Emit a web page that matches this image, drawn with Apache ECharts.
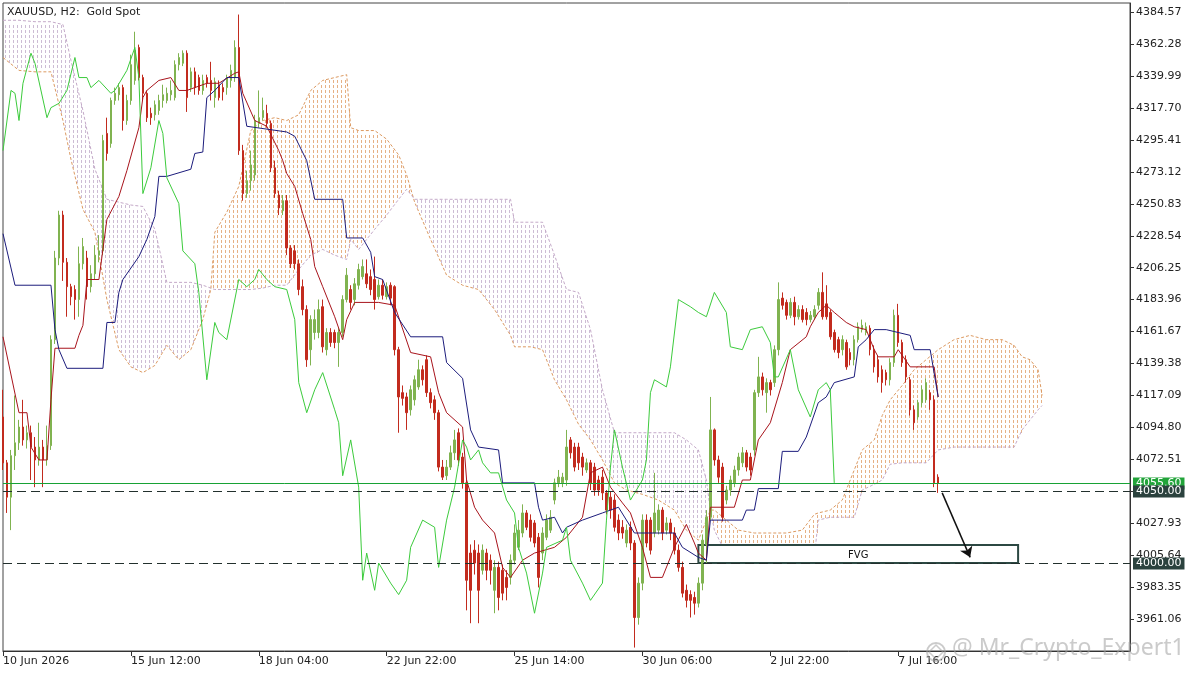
<!DOCTYPE html>
<html><head><meta charset="utf-8">
<script src="https://cdn.jsdelivr.net/npm/echarts@6/dist/echarts.min.js"></script>
<style>html,body{margin:0;padding:0;background:#fff}#c{width:1200px;height:675px}</style>
</head><body><div id="c"></div>
<script>
// ---------------- DATA ----------------
const titleText = 'XAUUSD, H2:  Gold Spot';
const xLabels = ['10 Jun 2026','15 Jun 12:00','18 Jun 04:00','22 Jun 22:00','25 Jun 14:00','30 Jun 06:00','2 Jul 22:00','7 Jul 16:00'];
const barsPerLabel = 32;
const barSlots = 283;
const tickVals = [3961.06,3983.35,4005.64,4027.93,4050.22,4072.51,4094.80,4117.09,4139.38,4161.67,4183.96,4206.25,4228.54,4250.83,4273.12,4295.41,4317.70,4339.99,4362.28,4384.57];
const priceMin = 3938.61, priceMax = 4391.06;

const opens = [4102,4070,4046,4075,4084,4095,4086,4091,4081,4072,
4081,4072,4082,4156,4213,4243,4210,4193,4191,4184,
4209,4213,4193,4202,4215,4218,4300,4293,4323,4327,
4332,4309,4323,4337,4360,4339,4328,4314,4313,4316,
4323,4323,4327,4325,4348,4349,4356,4332,4343,4339,
4330,4339,4337,4325,4334,4332,4332,4337,4339,4360,
4288,4258,4267,4271,4307,4311,4314,4307,4276,4257,
4246,4253,4220,4218,4209,4193,4177,4149,4161,4161,
4179,4149,4161,4161,4154,4161,4184,4191,4184,4194,
4200,4202,4200,4198,4186,4194,4186,4194,4193,4149,
4119,4116,4107,4114,4123,4135,4142,4119,4114,4105,
4067,4061,4067,4077,4091,4074,4056,4007,4009,4007,
3995,4007,4002,3981,3997,3995,3990,3990,4002,4011,
4021,4035,4030,4028,4018,4007,4018,4023,4044,4056,
4056,4058,4086,4081,4081,4074,4065,4070,4067,4058,
4060,4049,4046,4044,4030,4025,4014,4025,4014,3962,
3986,4030,4030,4021,4023,4037,4023,4028,4021,4009,
3997,3981,3978,3976,3972,3986,4013,4032,4093,4072,
4067,4044,4051,4056,4065,4070,4077,4074,4079,4119,
4130,4119,4126,4126,4149,4185,4182,4173,4182,4172,
4177,4175,4170,4172,4180,4189,4181,4175,4161,4156,
4149,4154,4147,4142,4156,4163,4161,4164,4149,4142,
4135,4133,4128,4140,4173,4154,4142,4128,4107,4102,
4112,4114,4119,4114,4060];
const closes = [4070,4046,4075,4084,4095,4086,4091,4081,4072,4081,
4072,4082,4156,4213,4243,4210,4193,4186,4184,4209,
4221,4193,4202,4215,4218,4295,4286,4323,4328,4332,
4309,4323,4348,4358,4339,4328,4311,4311,4320,4323,
4327,4328,4330,4348,4353,4356,4325,4343,4332,4330,
4337,4335,4330,4336,4325,4329,4339,4344,4360,4288,
4258,4267,4278,4309,4311,4316,4307,4276,4258,4248,
4253,4220,4209,4209,4191,4177,4142,4170,4170,4177,
4151,4161,4154,4154,4161,4184,4201,4182,4195,4205,
4207,4195,4191,4184,4194,4187,4193,4185,4149,4116,
4115,4105,4121,4128,4135,4128,4119,4112,4105,4067,
4060,4067,4077,4086,4072,4056,3988,3981,4000,3981,
4009,3995,3995,3997,3976,3979,3983,4002,4021,4023,
4035,4025,4018,4014,3990,4021,4030,4032,4056,4060,
4060,4081,4077,4067,4070,4067,4070,4056,4051,4051,
4049,4037,4037,4025,4021,4021,4023,4014,3962,3986,
4030,4014,4009,4035,4037,4021,4028,4021,4009,3997,
3979,3974,3974,3972,3986,4016,4032,4093,4072,4060,
4032,4051,4058,4065,4074,4077,4067,4065,4119,4130,
4121,4126,4121,4149,4184,4180,4173,4182,4172,4177,
4170,4170,4173,4177,4189,4172,4172,4158,4149,4147,
4156,4137,4142,4156,4165,4166,4165,4149,4137,4130,
4126,4128,4140,4173,4154,4140,4130,4107,4098,4112,
4121,4126,4114,4056,4055.6];
const lows = [4065,4035,4023,4065,4079,4082,4080,4058,4053,4068,
4053,4068,4079,4153,4208,4197,4172,4180,4170,4172,
4205,4184,4189,4198,4210,4215,4281,4290,4320,4323,
4302,4306,4320,4334,4337,4323,4308,4306,4309,4313,
4318,4321,4323,4323,4344,4347,4315,4329,4327,4327,
4327,4332,4323,4318,4323,4323,4327,4332,4336,4285,
4253,4255,4260,4267,4304,4309,4304,4273,4255,4243,
4243,4215,4206,4205,4187,4173,4137,4138,4156,4157,
4147,4145,4151,4150,4137,4158,4182,4177,4180,4191,
4198,4192,4187,4177,4184,4184,4184,4180,4145,4091,
4110,4093,4103,4110,4121,4124,4116,4108,4100,4064,
4058,4058,4065,4072,4068,4052,3967,3958,3992,3958,
3992,3988,3985,3965,3967,3974,3974,3985,3999,4009,
4018,4023,4015,4011,3983,4002,4016,4021,4041,4053,
4053,4054,4073,4064,4065,4061,4063,4051,4047,4047,
4044,4034,4031,4022,4016,4017,4011,4009,3941,3957,
3981,4011,4006,4018,4020,4016,4020,4016,4006,3994,
3976,3969,3962,3964,3969,3981,4000,4030,4068,4056,
4029,4041,4047,4053,4061,4067,4064,4061,4075,4116,
4117,4105,4117,4123,4145,4177,4170,4171,4166,4170,
4168,4166,4168,4170,4177,4170,4170,4156,4147,4143,
4145,4135,4138,4138,4154,4161,4159,4145,4133,4126,
4119,4124,4124,4137,4151,4137,4126,4103,4093,4100,
4109,4112,4107,4053,4049];
const highs = [4121,4072,4079,4117,4100,4114,4096,4096,4088,4098,
4086,4096,4159,4218,4246,4246,4213,4195,4194,4221,
4227,4218,4208,4222,4229,4299,4311,4325,4332,4335,
4334,4327,4355,4371,4362,4341,4330,4318,4323,4327,
4334,4332,4337,4351,4356,4358,4358,4346,4346,4341,
4341,4341,4350,4339,4337,4335,4341,4348,4365,4383,
4292,4274,4288,4313,4330,4325,4320,4309,4281,4260,
4257,4257,4222,4222,4212,4198,4180,4173,4177,4184,
4184,4164,4164,4163,4164,4187,4206,4194,4199,4209,
4212,4212,4205,4214,4198,4198,4196,4196,4194,4151,
4124,4119,4124,4131,4142,4138,4145,4122,4117,4107,
4072,4072,4082,4093,4094,4077,4058,4013,4016,4013,
4013,4010,4006,4002,4001,3999,3995,4006,4027,4030,
4041,4037,4034,4030,4021,4025,4034,4037,4059,4065,
4063,4093,4088,4084,4084,4077,4073,4072,4070,4061,
4065,4051,4050,4048,4034,4030,4027,4029,4016,3990,
4034,4034,4032,4063,4041,4039,4032,4031,4025,4013,
4001,3985,3981,3980,3990,4020,4037,4116,4094,4075,
4070,4054,4061,4068,4077,4081,4079,4077,4121,4144,
4133,4129,4128,4152,4196,4189,4184,4185,4186,4180,
4180,4178,4176,4180,4192,4203,4194,4177,4163,4158,
4159,4156,4150,4159,4168,4170,4168,4166,4152,4145,
4138,4135,4143,4177,4181,4156,4145,4130,4110,4114,
4124,4129,4121,4117,4062];

// Ichimoku lines as [bar index, price]
const tenkan = [[0,4158],[4,4105],[6,4105],[7,4081],[9,4072],[11,4072],[12,4114],[13,4150],[18,4150],[19,4159],[20,4166],[21,4198],[24,4198],[26,4240],[29,4256],[31,4274],[34,4304],[35,4325],[36,4330],[39,4337],[42,4339],[44,4330],[46,4330],[51,4335],[54,4335],[58,4342],[59,4343],[60,4328],[63,4309],[66,4305],[69,4288],[70,4281],[71,4272],[73,4263],[75,4244],[77,4226],[78,4207],[80,4193],[83,4172],[85,4156],[86,4170],[88,4182],[94,4182],[98,4180],[102,4147],[107,4144],[109,4119],[111,4105],[115,4095],[116,4058],[118,4039],[120,4030],[123,4021],[125,3997],[127,3990],[130,4002],[133,4007],[138,4011],[141,4018],[145,4032],[147,4063],[150,4067],[152,4053],[155,4042],[157,4035],[160,4011],[162,3990],[165,3990],[168,4011],[171,4027],[173,4014],[174,4007],[176,4002],[177,4039],[183,4039],[185,4058],[187,4058],[189,4086],[192,4098],[195,4126],[197,4149],[201,4158],[202,4165],[204,4175],[206,4180],[208,4175],[211,4168],[213,4165],[216,4163],[218,4149],[219,4144],[223,4144],[224,4149],[227,4137],[233,4137],[234,4116]];
const kijun = [[0,4230],[3,4194],[12,4194],[13,4163],[14,4149],[16,4136],[25,4136],[26,4168],[28,4168],[29,4189],[30,4198],[34,4214],[36,4226],[38,4242],[39,4270],[41,4270],[47,4275],[48,4286],[50,4287],[51,4325],[53,4330],[56,4339],[59,4339],[61,4305],[71,4301],[73,4298],[76,4281],[78,4254],[85,4254],[86,4227],[90,4227],[92,4217],[93,4200],[95,4198],[98,4175],[102,4158],[110,4158],[111,4140],[115,4129],[117,4093],[119,4081],[124,4079],[125,4056],[133,4056],[134,4039],[135,4030],[138,4032],[140,4021],[141,4025],[145,4030],[150,4035],[154,4039],[158,4021],[168,4021],[170,4011],[174,4004],[176,4002],[177,4030],[185,4030],[186,4037],[188,4037],[189,4052],[194,4052],[195,4078],[199,4078],[201,4088],[204,4112],[206,4116],[208,4126],[213,4130],[214,4151],[216,4156],[218,4163],[221,4163],[227,4159],[228,4149],[232,4149],[234,4116]];
const chikou = [[0,4288],[2,4330],[3,4328],[4,4309],[5,4335],[7,4356],[8,4349],[11,4311],[12,4318],[14,4321],[16,4330],[18,4353],[19,4339],[21,4339],[22,4332],[24,4337],[27,4328],[28,4330],[31,4344],[33,4360],[34,4339],[35,4258],[37,4276],[39,4309],[40,4300],[41,4269],[44,4251],[45,4218],[48,4209],[49,4189],[51,4128],[53,4168],[54,4161],[56,4156],[59,4198],[61,4193],[63,4198],[64,4205],[66,4198],[68,4193],[71,4191],[73,4170],[74,4126],[76,4105],[78,4121],[80,4133],[83,4107],[84,4098],[85,4061],[87,4086],[89,4053],[90,3988],[91,4007],[93,3981],[94,4000],[97,3986],[99,3978],[101,3988],[102,4011],[105,4030],[108,4025],[109,3997],[111,4030],[113,4053],[115,4086],[116,4081],[117,4072],[119,4079],[120,4070],[122,4063],[124,4063],[126,4044],[128,4035],[129,4011],[131,3993],[133,3965],[135,3993],[136,4011],[140,4016],[141,4025],[142,4002],[145,3986],[147,3974],[150,3986],[151,4030],[152,4067],[153,4093],[155,4067],[157,4044],[160,4058],[161,4072],[162,4119],[163,4128],[166,4123],[167,4137],[169,4184],[172,4179],[174,4175],[176,4172],[178,4189],[181,4175],[182,4151],[185,4149],[187,4163],[190,4165],[192,4154],[193,4130],[194,4130],[197,4149],[199,4121],[202,4102],[204,4121],[206,4126],[207,4121],[208,4056]];

// Cloud (Senkou span A / B) read at these bar indices
const cloudIdx = [0,4,8,12,15,17,20,23,26,29,32,35,38,41,44,47,50,52,53,56,59,62,65,68,71,74,77,80,83,86,87,89,93,96,99,101,103,107,111,115,119,123,127,128,132,135,138,141,144,147,150,153,156,160,164,168,171,174,176,177,178,181,184,188,192,196,200,203,204,207,210,213,215,218,220,222,225,228,231,234,238,242,246,250,253,255,257,259,260];
const spanA = [4353,4344,4343,4343,4309,4282,4247,4231,4184,4149,4137,4133,4138,4152,4142,4149,4170,4191,4231,4245,4263,4302,4309,4311,4309,4313,4330,4337,4339,4341,4304,4302,4302,4296,4285,4271,4252,4226,4201,4194,4191,4177,4159,4151,4151,4149,4128,4114,4097,4086,4072,4056,4051,4048,4044,4037,4023,4016,4030,4037,4037,4030,4023,4021,4021,4021,4023,4034,4035,4037,4044,4065,4079,4086,4103,4114,4124,4135,4142,4149,4156,4159,4156,4156,4152,4144,4142,4135,4117];
const spanB = [4379,4379,4378,4378,4376,4351,4316,4275,4254,4252,4250,4249,4233,4196,4196,4196,4194,4192,4191,4191,4191,4191,4192,4194,4194,4205,4215,4219,4215,4212,4226,4219,4233,4243,4254,4261,4254,4254,4254,4254,4254,4254,4254,4238,4238,4238,4215,4191,4189,4163,4121,4091,4091,4091,4091,4091,4086,4079,4058,4037,4023,4006,4002,4001,4001,4002,4002,4004,4030,4032,4032,4032,4051,4055,4058,4069,4070,4070,4070,4079,4081,4081,4081,4081,4081,4093,4100,4107,4110];

const levels = [4055.60, 4050.00, 4000.00];
const fvgZone = [174, 254, 4012.7, 4000.0];   // start bar, end bar, top, bottom
const arrowPath = [[235, 4049], [242, 4004]];
const watermark = '@ Mr_Crypto_Expert1';

// ---------------- BUILD ----------------
const FONT = 'DejaVu Sans';
const SANDY = '#e6b185', THISTLE = '#cdbcd4';
const categories = Array.from({length: barSlots}, (_, i) => String(i));
const candleData = opens.map((o, i) => [o, closes[i], lows[i], highs[i]]);
const pairs = (idx, vals) => idx.map((x, k) => [x, vals[k]]);
const cloudSegs = [];
for (let k = 0; k < cloudIdx.length - 1; k++) {
  cloudSegs.push([cloudIdx[k], spanA[k], spanB[k], cloudIdx[k+1], spanA[k+1], spanB[k+1]]);
}
const labelOn = (i) => i % barsPerLabel === 0 && (i / barsPerLabel) < xLabels.length;

// hatch the area between the two spans with a fixed screen grid of small dashes
function cloudRender(params, api) {
  const i0 = api.value(0), a0 = api.value(1), b0 = api.value(2);
  const i1 = api.value(3), a1 = api.value(4), b1 = api.value(5);
  const A0 = api.coord([i0, a0]), B0 = api.coord([i0, b0]);
  const A1 = api.coord([i1, a1]), B1 = api.coord([i1, b1]);
  const x0 = A0[0], x1 = A1[0];
  let sandy = '', thistle = '';
  for (let gx = Math.ceil((x0 - 1) / 4) * 4 + 1; gx < x1; gx += 4) {
    const t = (gx - x0) / (x1 - x0);
    const ya = A0[1] + (A1[1] - A0[1]) * t;
    const yb = B0[1] + (B1[1] - B0[1]) * t;
    const top = Math.min(ya, yb), bot = Math.max(ya, yb);
    let s = '';
    for (let gy = Math.ceil(top / 5) * 5; gy <= bot - 2; gy += 5) s += 'M' + gx + ' ' + gy + 'h1v3h-1z';
    if (ya < yb) sandy += s; else thistle += s;
  }
  const ch = [];
  if (sandy) ch.push({type: 'path', shape: {pathData: sandy}, style: {fill: SANDY, stroke: null}});
  if (thistle) ch.push({type: 'path', shape: {pathData: thistle}, style: {fill: THISTLE, stroke: null}});
  return {type: 'group', children: ch};
}

// horizontal price levels with their price boxes on the right axis
function levelRender(params, api) {
  const v = api.value(1);
  const cs = params.coordSys;
  const y = Math.round(api.coord([0, v])[1]) + 0.5;
  const x0 = cs.x, x1 = cs.x + cs.width;
  const current = params.dataIndex === 0;
  return {type: 'group', children: [
    {type: 'line', shape: {x1: x0, y1: y, x2: x1, y2: y},
      style: {stroke: current ? '#17a235' : '#22302d', lineWidth: 1, lineDash: current ? null : [9, 5]}},
    {type: 'text', style: {text: v.toFixed(2), x: x1 + 3, y: y, align: 'left', verticalAlign: 'middle',
      fill: '#fff', backgroundColor: current ? '#22a43a' : '#2b423e', padding: [1, 3, 0, 3],
      font: '11px "DejaVu Sans"'}}
  ]};
}

const option = {
  animation: false,
  backgroundColor: '#fff',
  title: {text: titleText, left: 7, top: 7, padding: 0,
    textStyle: {fontSize: 11, fontWeight: 'normal', color: '#222', fontFamily: FONT}},
  grid: {left: 3, right: 70, top: 3, bottom: 24, show: true, borderColor: '#444', borderWidth: 1,
    containLabel: false, outerBoundsMode: 'none'},
  xAxis: {
    type: 'category', data: categories, boundaryGap: false,
    axisLine: {lineStyle: {color: '#333', width: 1}},
    axisTick: {show: true, interval: (i) => labelOn(i), length: 5, lineStyle: {color: '#333'}},
    axisLabel: {interval: (i) => labelOn(i), formatter: (v, i) => xLabels[i / barsPerLabel] || '',
      align: 'left', margin: 5, color: '#222', fontSize: 11, fontFamily: FONT},
    splitLine: {show: false}
  },
  yAxis: {
    type: 'value', position: 'right', min: priceMin, max: priceMax, scale: true,
    axisLine: {show: true, lineStyle: {color: '#333', width: 1}},
    axisTick: {show: true, customValues: tickVals, length: 4, lineStyle: {color: '#333'}},
    axisLabel: {customValues: tickVals, formatter: (v) => Number(v).toFixed(2), margin: 6,
      color: '#222', fontSize: 11, fontFamily: FONT},
    splitLine: {show: false}
  },
  graphic: [
    {type: 'circle', shape: {cx: 936, cy: 652, r: 9}, style: {fill: 'none', stroke: 'rgba(160,160,160,0.55)', lineWidth: 2}, z: 50},
    {type: 'polygon', shape: {points: [[936,645],[943,652],[936,659],[929,652]]}, style: {fill: 'none', stroke: 'rgba(160,160,160,0.55)', lineWidth: 1.5}, z: 50},
    {type: 'text', left: 952, top: 637, z: 50,
      style: {text: watermark, fontSize: 23, fontFamily: 'Noto Sans', fill: 'rgba(160,160,160,0.55)'}}
  ],
  series: [
    {type: 'custom', name: 'cloud', z: 1, silent: true, clip: true,
      data: cloudSegs, encode: {x: 0, y: 1}, renderItem: cloudRender},
    {type: 'line', name: 'spanA', z: 2, silent: true, data: pairs(cloudIdx, spanA), showSymbol: false, symbol: 'none',
      lineStyle: {color: '#dc9a62', width: 1, type: [3, 2]}},
    {type: 'line', name: 'spanB', z: 2, silent: true, data: pairs(cloudIdx, spanB), showSymbol: false, symbol: 'none',
      lineStyle: {color: '#c4a9c8', width: 1, type: [3, 2]}},
    {
      type: 'custom', name: 'fvg', z: 3, silent: true, data: [fvgZone], encode: {x: 0, y: 2},
      renderItem: function (params, api) {
        const p0 = api.coord([api.value(0), api.value(2)]);
        const p1 = api.coord([api.value(1), api.value(3)]);
        return {type: 'group', children: [
          {type: 'rect', shape: {x: p0[0], y: p0[1], width: p1[0] - p0[0], height: p1[1] - p0[1]},
            style: {fill: '#ffffff', stroke: '#2c4843', lineWidth: 2}},
          {type: 'text', style: {text: 'FVG', x: (p0[0] + p1[0]) / 2, y: (p0[1] + p1[1]) / 2 + 1,
            align: 'center', verticalAlign: 'middle', fill: '#111', font: '10px "DejaVu Sans"'}}
        ]};
      }
    },
    {
      type: 'candlestick', name: 'XAUUSD', z: 4, data: candleData, barWidth: 2,
      itemStyle: {color: '#80b350', color0: '#c22b1e', borderColor: '#80b350', borderColor0: '#c22b1e', borderWidth: 1}
    },
    {type: 'line', name: 'Tenkan', z: 5, silent: true, data: tenkan, showSymbol: false, symbol: 'none',
      lineStyle: {color: '#a8141c', width: 1}},
    {type: 'line', name: 'Kijun', z: 5, silent: true, data: kijun, showSymbol: false, symbol: 'none',
      lineStyle: {color: '#1c1c7c', width: 1}},
    {type: 'line', name: 'Chikou', z: 5, silent: true, data: chikou, showSymbol: false, symbol: 'none',
      itemStyle: {color: '#3ccb3c'}, lineStyle: {color: '#3ccb3c', width: 1}},
    {type: 'custom', name: 'levels', z: 7, silent: true, clip: false,
      data: levels.map((v) => [0, v]), encode: {x: 0, y: 1}, renderItem: levelRender},
    {type: 'lines', coordinateSystem: 'cartesian2d', z: 6, silent: true,
      symbol: ['none', 'arrow'], symbolSize: 10,
      lineStyle: {color: '#111', width: 1.5, opacity: 1},
      data: [{coords: arrowPath}]}
  ]
};
const chart = echarts.init(document.getElementById('c'), null, {renderer: 'canvas'});
chart.setOption(option);
</script></body></html>
